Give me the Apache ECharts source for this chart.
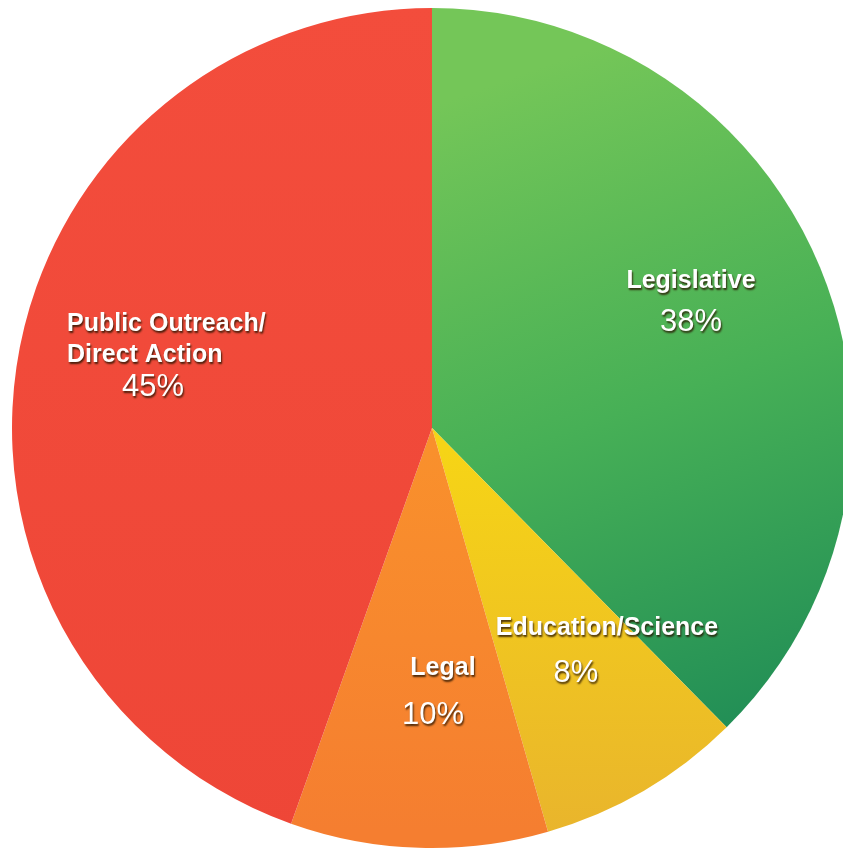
<!DOCTYPE html>
<html>
<head>
<meta charset="utf-8">
<script src="https://cdn.jsdelivr.net/npm/echarts@6/dist/echarts.min.js"></script>
<style>html,body{margin:0;padding:0;background:#fff;}#c{width:843px;height:849px;}</style>
</head>
<body>
<div id="c"></div>
<script>
const categories = ['Legislative', 'Education/Science', 'Legal', 'Public Outreach/\nDirect Action'];
const values = [38, 8, 10, 45];
const percentLabels = ['38%', '8%', '10%', '45%'];

const chart = echarts.init(document.getElementById('c'), null, {renderer: 'canvas'});
const G = echarts.graphic.LinearGradient;
const fills = [
  new G(560, 60, 800, 720, [{offset: 0, color: '#74c658'}, {offset: 0.5, color: '#47b056'}, {offset: 1, color: '#208d56'}], true),
  new G(0, 450, 0, 830, [{offset: 0, color: '#f6d416'}, {offset: 1, color: '#e9b52c'}], true),
  new G(0, 450, 0, 830, [{offset: 0, color: '#f9902c'}, {offset: 1, color: '#f57e30'}], true),
  new G(0, 0, 0, 849, [{offset: 0, color: '#f34d3c'}, {offset: 1, color: '#ee4637'}], true)
];
// label placement (style)
const labelPos = [
  {x: 691, y: 302, align: 'center'},
  {x: 607, y: 651, align: 'center'},
  {x: 443, y: 692, align: 'center'},
  {x: 67, y: 356, align: 'left'}
];
const shadow = {textShadowColor: 'rgba(40,20,0,0.85)', textShadowBlur: 2, textShadowOffsetX: 1, textShadowOffsetY: 2};
function richFor(i) {
  const base = {
    n: Object.assign({fontFamily: 'Liberation Sans', fontWeight: 'bold', fontSize: 25, color: '#fff'}, shadow),
    p: Object.assign({fontFamily: 'Liberation Sans', fontWeight: 'normal', fontSize: 31, color: '#fff'}, shadow)
  };
  if (i === 0) { base.n.lineHeight = 41; base.p.lineHeight = 41; }
  if (i === 1) { base.n.lineHeight = 45; base.p.lineHeight = 45; base.p.padding = [0, 62, 0, 0]; }
  if (i === 2) { base.n.lineHeight = 47; base.p.lineHeight = 47; base.p.padding = [0, 20, 0, 0]; }
  if (i === 3) { base.n.lineHeight = 31; base.p.lineHeight = 33; base.p.padding = [0, 0, 0, 55]; }
  return base;
}
const data = categories.map((name, i) => ({
  name: name,
  value: values[i],
  itemStyle: {color: fills[i]},
  label: {
    show: true,
    position: 'inside',
    align: labelPos[i].align,
    formatter: name.split('\n').map(s => '{n|' + s + '}').join('\n') + '\n{p|' + percentLabels[i] + '}',
    rich: richFor(i)
  }
}));

chart.setOption({
  backgroundColor: '#ffffff',
  animation: false,
  series: [{
    type: 'pie',
    center: [432, 428],
    radius: 420,
    startAngle: 90,
    clockwise: true,
    avoidLabelOverlap: false,
    itemStyle: {borderWidth: 0},
    labelLine: {show: false},
    emphasis: {disabled: true},
    data: data,
    labelLayout: function (params) {
      const p = labelPos[params.dataIndex];
      return {x: p.x, y: p.y, align: p.align, verticalAlign: 'middle'};
    }
  }]
});
</script>
</body>
</html>
